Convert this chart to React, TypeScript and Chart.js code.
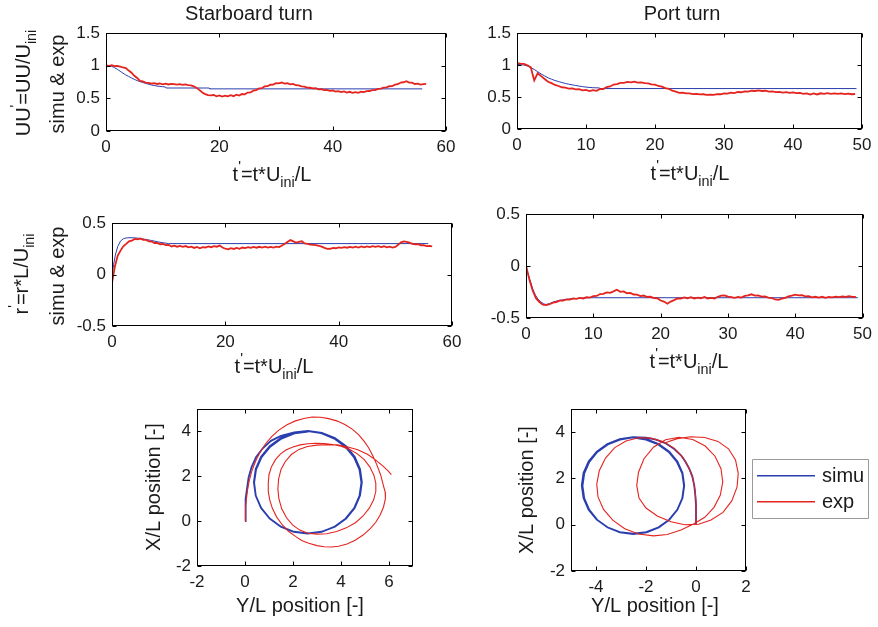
import React, { useEffect, useRef } from "react";
import { Chart, registerables } from "chart.js";

Chart.register(...registerables);

const FONT = "'Liberation Sans', Arial, Helvetica, sans-serif";
const BLUE = "#2b3eae";
const RED = "#e5231e";
const INK = "#1a1a1a";
const TICK_SIZE = 17;
const LABEL_SIZE = 20;

// ---------- time axes ----------
const T_STAR = [
  0, 0.5, 1, 1.5, 2, 2.5, 3, 3.5, 4, 4.5,
  5, 5.5, 6, 6.5, 7, 7.5, 8, 8.5, 9, 9.5,
  10, 10.5, 11, 11.5, 12, 12.5, 13, 13.5, 14, 14.5,
  15, 15.5, 16, 16.5, 17, 17.5, 18, 18.5, 19, 19.5,
  20, 20.5, 21, 21.5, 22, 22.5, 23, 23.5, 24, 24.5,
  25, 25.5, 26, 26.5, 27, 27.5, 28, 28.5, 29, 29.5,
  30, 30.5, 31, 31.5, 32, 32.5, 33, 33.5, 34, 34.5,
  35, 35.5, 36, 36.5, 37, 37.5, 38, 38.5, 39, 39.5,
  40, 40.5, 41, 41.5, 42, 42.5, 43, 43.5, 44, 44.5,
  45, 45.5, 46, 46.5, 47, 47.5, 48, 48.5, 49, 49.5,
  50, 50.5, 51, 51.5, 52, 52.5, 53, 53.5, 54, 54.5,
  55, 55.5, 56, 56.5,
];
const T_PORT = [
  0, 0.5, 1, 1.5, 2, 2.5, 3, 3.5, 4, 4.5,
  5, 5.5, 6, 6.5, 7, 7.5, 8, 8.5, 9, 9.5,
  10, 10.5, 11, 11.5, 12, 12.5, 13, 13.5, 14, 14.5,
  15, 15.5, 16, 16.5, 17, 17.5, 18, 18.5, 19, 19.5,
  20, 20.5, 21, 21.5, 22, 22.5, 23, 23.5, 24, 24.5,
  25, 25.5, 26, 26.5, 27, 27.5, 28, 28.5, 29, 29.5,
  30, 30.5, 31, 31.5, 32, 32.5, 33, 33.5, 34, 34.5,
  35, 35.5, 36, 36.5, 37, 37.5, 38, 38.5, 39, 39.5,
  40, 40.5, 41, 41.5, 42, 42.5, 43, 43.5, 44, 44.5,
  45, 45.5, 46, 46.5, 47, 47.5, 48, 48.5, 49,
];

// ---------- starboard U' ----------
const STAR_U_SIMU_T = [0, 1, 1.5, 2, 2.5, 3, 3.5, 4, 4.5, 5, 5.5, 6, 6.5, 7, 7.5, 8, 8.5, 9, 10, 10.5, 10.6, 18.2, 18.3, 55.8];
const STAR_U_SIMU = [1.0, 0.99, 0.97, 0.945, 0.915, 0.885, 0.858, 0.835, 0.812, 0.79, 0.772, 0.756, 0.742, 0.728, 0.716, 0.705, 0.696, 0.688, 0.678, 0.674, 0.658, 0.658, 0.645, 0.645];
const STAR_U_EXP = [
  1.005, 0.995, 1.008, 0.992, 0.998, 0.985, 0.972, 0.962, 0.925, 0.892,
  0.845, 0.812, 0.768, 0.76, 0.742, 0.738, 0.724, 0.731, 0.72, 0.727,
  0.715, 0.724, 0.712, 0.721, 0.716, 0.709, 0.718, 0.706, 0.713, 0.702,
  0.698, 0.684, 0.66, 0.625, 0.59, 0.565, 0.55, 0.544, 0.551, 0.532,
  0.545, 0.528, 0.541, 0.53, 0.548, 0.533, 0.556, 0.542, 0.566, 0.561,
  0.588, 0.59, 0.617, 0.624, 0.652, 0.655, 0.682, 0.686, 0.708, 0.71,
  0.732, 0.728, 0.742, 0.725, 0.731, 0.714, 0.72, 0.701, 0.697, 0.682,
  0.678, 0.665, 0.662, 0.652, 0.654, 0.638, 0.64, 0.626, 0.629, 0.615,
  0.62, 0.604, 0.611, 0.595, 0.606, 0.588, 0.6, 0.584, 0.596, 0.585,
  0.601, 0.596, 0.611, 0.612, 0.626, 0.627, 0.645, 0.648, 0.664, 0.668,
  0.685, 0.686, 0.71, 0.716, 0.742, 0.746, 0.762, 0.741, 0.74, 0.72,
  0.725, 0.71, 0.716, 0.722,
];

// ---------- port U' ----------
const PORT_U_SIMU_T = [0, 1, 1.5, 2, 2.5, 3, 3.5, 4, 4.5, 5, 5.5, 6, 6.5, 7, 7.5, 8, 8.5, 9, 9.5, 10, 11, 11.9, 12, 49.2];
const PORT_U_SIMU = [1.01, 1.0, 0.985, 0.96, 0.93, 0.895, 0.86, 0.83, 0.8, 0.778, 0.758, 0.742, 0.727, 0.712, 0.7, 0.69, 0.68, 0.67, 0.662, 0.655, 0.645, 0.642, 0.632, 0.632];
const PORT_U_EXP = [
  1.03, 1.022, 1.018, 0.995, 0.962, 0.76, 0.872, 0.826, 0.782, 0.738,
  0.716, 0.688, 0.672, 0.652, 0.648, 0.632, 0.633, 0.62, 0.624, 0.605,
  0.61, 0.592, 0.608, 0.596, 0.622, 0.625, 0.655, 0.664, 0.694, 0.7,
  0.72, 0.72, 0.736, 0.729, 0.74, 0.726, 0.728, 0.716, 0.712, 0.697,
  0.692, 0.672, 0.662, 0.64, 0.628, 0.598, 0.584, 0.566, 0.568, 0.556,
  0.558, 0.545, 0.55, 0.54, 0.543, 0.533, 0.538, 0.534, 0.546, 0.543,
  0.557, 0.553, 0.567, 0.562, 0.578, 0.574, 0.588, 0.585, 0.598, 0.594,
  0.604, 0.594, 0.598, 0.585, 0.589, 0.576, 0.581, 0.57, 0.576, 0.565,
  0.571, 0.56, 0.564, 0.549, 0.556, 0.538, 0.555, 0.54, 0.558, 0.548,
  0.56, 0.55, 0.558, 0.548, 0.555, 0.546, 0.552, 0.543, 0.547,
];

// ---------- starboard r' ----------
const STAR_R_SIMU_T = [0, 0.3, 0.6, 1, 1.5, 2, 2.5, 3, 4, 5, 6, 7, 8, 9, 10, 55.8];
const STAR_R_SIMU = [0.0, 0.1, 0.19, 0.27, 0.325, 0.347, 0.355, 0.357, 0.356, 0.35, 0.34, 0.33, 0.318, 0.308, 0.3, 0.3];
const STAR_R_EXP = [
  -0.08, 0.075, 0.182, 0.232, 0.274, 0.297, 0.322, 0.328, 0.345, 0.342,
  0.349, 0.336, 0.336, 0.321, 0.32, 0.306, 0.307, 0.294, 0.296, 0.285,
  0.288, 0.272, 0.28, 0.27, 0.278, 0.268, 0.276, 0.264, 0.27, 0.258,
  0.267, 0.255, 0.266, 0.262, 0.272, 0.265, 0.276, 0.27, 0.281, 0.262,
  0.25, 0.244, 0.256, 0.248, 0.258, 0.25, 0.262, 0.256, 0.266, 0.258,
  0.268, 0.26, 0.269, 0.262, 0.27, 0.261, 0.268, 0.262, 0.27, 0.266,
  0.282, 0.298, 0.318, 0.334, 0.322, 0.31, 0.316, 0.322, 0.302, 0.297,
  0.29, 0.288, 0.286, 0.279, 0.27, 0.258, 0.248, 0.25, 0.258, 0.255,
  0.264, 0.258, 0.266, 0.26, 0.268, 0.261, 0.27, 0.262, 0.272, 0.264,
  0.273, 0.266, 0.275, 0.268, 0.276, 0.266, 0.274, 0.263, 0.27, 0.262,
  0.268, 0.288, 0.312, 0.322, 0.316, 0.31, 0.298, 0.292, 0.294, 0.284,
  0.286, 0.276, 0.278, 0.274,
];

// ---------- port r' ----------
const PORT_R_SIMU_T = [0, 0.3, 0.7, 1, 1.4, 1.8, 2.2, 2.6, 2.9, 3.5, 4.1, 5, 6.1, 7, 8, 9.6, 49.3];
const PORT_R_SIMU = [0, -0.08, -0.155, -0.22, -0.28, -0.32, -0.345, -0.362, -0.37, -0.362, -0.345, -0.33, -0.32, -0.315, -0.31, -0.305, -0.305];
const PORT_R_EXP = [
  0.005, -0.13, -0.238, -0.312, -0.348, -0.372, -0.376, -0.368, -0.352, -0.347,
  -0.333, -0.332, -0.322, -0.324, -0.312, -0.316, -0.306, -0.312, -0.3, -0.304,
  -0.29, -0.288, -0.27, -0.268, -0.254, -0.258, -0.244, -0.228, -0.248, -0.244,
  -0.262, -0.258, -0.274, -0.276, -0.29, -0.284, -0.298, -0.296, -0.308, -0.31,
  -0.332, -0.342, -0.362, -0.342, -0.328, -0.312, -0.314, -0.302, -0.31, -0.3,
  -0.312, -0.304, -0.31, -0.298, -0.312, -0.306, -0.312, -0.296, -0.284, -0.282,
  -0.294, -0.3, -0.306, -0.298, -0.304, -0.288, -0.282, -0.272, -0.284, -0.282,
  -0.294, -0.292, -0.304, -0.308, -0.322, -0.326, -0.314, -0.306, -0.292, -0.284,
  -0.276, -0.282, -0.28, -0.292, -0.29, -0.302, -0.296, -0.304, -0.296, -0.306,
  -0.298, -0.302, -0.294, -0.3, -0.292, -0.298, -0.29, -0.296, -0.298,
];

// ---------- trajectories [Y/L, X/L] ----------
const STAR_PATH_SIMU: [number, number][] = [
  [0, 0], [0.01, 0.5], [0.04, 1.0], [0.09, 1.5], [0.15, 1.95], [0.27, 2.4], [0.46, 2.85], [0.74, 3.25], [1.08, 3.58], [1.5, 3.8], [2.05, 3.96], [2.62, 4.02],
  [3.2, 3.94], [3.745, 3.704], [4.211, 3.342], [4.569, 2.87], [4.793, 2.32], [4.87, 1.73], [4.793, 1.14], [4.569, 0.59], [4.211, 0.118], [3.745, -0.244], [3.203, -0.472], [2.62, -0.55],
  [2.037, -0.472], [1.495, -0.244], [1.029, 0.118], [0.671, 0.59], [0.447, 1.14], [0.37, 1.73], [0.447, 2.32], [0.671, 2.87], [1.029, 3.342], [1.495, 3.704], [2.037, 3.932], [2.62, 4.01],
  [3.18, 3.92], [3.72, 3.68], [4.18, 3.32], [4.54, 2.85], [4.77, 2.3], [4.85, 1.72], [4.77, 1.13], [4.55, 0.58], [4.19, 0.11], [3.73, -0.25], [3.19, -0.48], [2.61, -0.56],
  [2.03, -0.48], [1.49, -0.25], [1.03, 0.11], [0.67, 0.58], [0.45, 1.13], [0.38, 1.72], [0.46, 2.3], [0.69, 2.85], [1.05, 3.32], [1.52, 3.68], [2.06, 3.91], [2.63, 3.99],
];
const STAR_PATH_EXP: [number, number][] = [
  [0, 0], [0.02, 0.35], [0.03, 0.65], [0.06, 1.0], [0.1, 1.35], [0.17, 1.77], [0.28, 2.22], [0.44, 2.67], [0.63, 3.08], [0.86, 3.45], [1.12, 3.78], [1.41, 4.06],
  [1.75, 4.3], [2.1, 4.47], [2.45, 4.58], [2.8, 4.64], [3.15, 4.63], [3.49, 4.57], [3.85, 4.46], [4.18, 4.3], [4.48, 4.09], [4.73, 3.86], [4.96, 3.57], [5.15, 3.27],
  [5.33, 2.9], [5.49, 2.52], [5.65, 2.07], [5.76, 1.62], [5.84, 1.3], [5.85, 1.0], [5.77, 0.62], [5.63, 0.27], [5.45, -0.05], [5.22, -0.33], [4.92, -0.62], [4.59, -0.85],
  [4.25, -1.02], [3.9, -1.12], [3.6, -1.15], [3.3, -1.14], [3.0, -1.09], [2.66, -0.99], [2.36, -0.86], [2.1, -0.68], [1.8, -0.44], [1.55, -0.16], [1.32, 0.18], [1.14, 0.57],
  [1.03, 0.95], [0.97, 1.32], [0.97, 1.7], [1.0, 2.07], [1.1, 2.42], [1.27, 2.74], [1.48, 3.0], [1.72, 3.18], [2.0, 3.31], [2.3, 3.4], [2.62, 3.45], [2.95, 3.47],
  [3.3, 3.46], [3.65, 3.42], [4.0, 3.34], [4.35, 3.2], [4.68, 3.0], [4.97, 2.74], [5.2, 2.42], [5.37, 2.05], [5.45, 1.7], [5.45, 1.32], [5.36, 0.95], [5.18, 0.58],
  [4.92, 0.23], [4.6, -0.07], [4.22, -0.3], [3.82, -0.46], [3.4, -0.56], [3.0, -0.58], [2.62, -0.54], [2.28, -0.4], [1.98, -0.17], [1.73, 0.15], [1.53, 0.55], [1.41, 1.0],
  [1.37, 1.45], [1.4, 1.88], [1.5, 2.3], [1.68, 2.66], [1.93, 2.97], [2.25, 3.2], [2.6, 3.33], [3.0, 3.39], [3.45, 3.41], [3.85, 3.4], [4.25, 3.32], [4.7, 3.18],
  [5.1, 2.98], [5.45, 2.72], [5.75, 2.45], [5.95, 2.25], [6.1, 2.07],
];
const PORT_PATH_SIMU: [number, number][] = [
  [0, 0], [0.0, 0.4], [0.0, 0.83], [-0.03, 1.3], [-0.07, 1.7], [-0.15, 2.1], [-0.27, 2.42], [-0.42, 2.72], [-0.6, 3.0], [-0.88, 3.28], [-1.2, 3.51], [-1.6, 3.68], [-2.0, 3.76], [-2.52, 3.78],
  [-3.051, 3.699], [-3.545, 3.491], [-3.969, 3.161], [-4.295, 2.73], [-4.5, 2.23], [-4.57, 1.69], [-4.5, 1.15], [-4.295, 0.65], [-3.969, 0.219], [-3.545, -0.111], [-3.051, -0.319], [-2.52, -0.39],
  [-1.989, -0.319], [-1.495, -0.111], [-1.071, 0.219], [-0.745, 0.65], [-0.54, 1.15], [-0.47, 1.69], [-0.54, 2.23], [-0.745, 2.73], [-1.071, 3.161], [-1.495, 3.491], [-1.989, 3.699], [-2.52, 3.77],
  [-3.04, 3.68], [-3.53, 3.47], [-3.95, 3.14], [-4.27, 2.71], [-4.47, 2.22], [-4.54, 1.68], [-4.47, 1.14], [-4.27, 0.64], [-3.95, 0.21], [-3.53, -0.12], [-3.04, -0.33], [-2.51, -0.4],
  [-1.98, -0.33], [-1.49, -0.12], [-1.07, 0.21], [-0.75, 0.64], [-0.55, 1.14], [-0.48, 1.68], [-0.55, 2.22], [-0.76, 2.71], [-1.09, 3.14], [-1.51, 3.47], [-2.0, 3.68], [-2.5, 3.76],
];
const PORT_PATH_EXP: [number, number][] = [
  [0, 0], [0.0, 0.5], [0.0, 1.0], [-0.04, 1.5], [-0.13, 2.0], [-0.28, 2.45], [-0.52, 2.9], [-0.87, 3.3], [-1.3, 3.58], [-1.8, 3.74], [-2.3, 3.76], [-2.8, 3.62],
  [-3.25, 3.33], [-3.62, 2.88], [-3.87, 2.33], [-3.97, 1.75], [-3.92, 1.2], [-3.7, 0.66], [-3.33, 0.2], [-2.85, -0.17], [-2.3, -0.4], [-1.7, -0.48], [-1.15, -0.42], [-0.6, -0.23],
  [-0.1, 0.03], [0.35, 0.32], [0.72, 0.75], [0.97, 1.27], [1.07, 1.85], [1.0, 2.42], [0.76, 2.96], [0.37, 3.4], [-0.13, 3.68], [-0.68, 3.78], [-1.22, 3.67], [-1.7, 3.35],
  [-2.08, 2.85], [-2.3, 2.27], [-2.37, 1.7], [-2.28, 1.15], [-2.0, 0.72], [-1.55, 0.38], [-1.0, 0.13], [-0.45, 0.0], [0.1, 0.02], [0.6, 0.2], [1.08, 0.53], [1.43, 1.03],
  [1.64, 1.62], [1.69, 2.22], [1.58, 2.8], [1.3, 3.28], [0.88, 3.6], [0.35, 3.77], [-0.2, 3.8], [-0.75, 3.72], [-1.2, 3.55],
];

// ---------- ticks ----------
const TICKS_T_STAR = [0, 20, 40, 60];
const TICKS_T_PORT = [0, 10, 20, 30, 40, 50];
const TICKS_U = [0, 0.5, 1, 1.5];
const TICKS_R = [-0.5, 0, 0.5];
const TICKS_STAR_Y = [-2, 0, 2, 4, 6];
const TICKS_PORT_Y = [-4, -2, 0, 2];
const TICKS_XPOS = [-2, 0, 2, 4];

const SERIES_NAMES = ["simu", "exp"];

// ---------- text helpers ----------
type Part = { t: string; s?: "sub" | "sup" };
type Label = { parts: Part[]; x: number; y: number; size: number; rot?: boolean };

const T_LABEL: Part[] = [{ t: "t" }, { t: "'", s: "sup" }, { t: "=t*U" }, { t: "ini", s: "sub" }, { t: "/L" }];
const U_LABEL: Part[] = [{ t: "UU" }, { t: "'", s: "sup" }, { t: "=UU/U" }, { t: "ini", s: "sub" }];
const R_LABEL: Part[] = [{ t: "r" }, { t: "'", s: "sup" }, { t: "=r*L/U" }, { t: "ini", s: "sub" }];
const SIMU_EXP: Part[] = [{ t: "simu & exp" }];
const YPOS: Part[] = [{ t: "Y/L position [-]" }];
const XPOS: Part[] = [{ t: "X/L position [-]" }];

function drawRich(ctx: CanvasRenderingContext2D, parts: Part[], cx: number, cy: number, size: number, rot: boolean) {
  ctx.save();
  ctx.translate(cx, cy);
  if (rot) ctx.rotate(-Math.PI / 2);
  const small = size * 0.72;
  let w = 0;
  for (const p of parts) {
    ctx.font = `${p.s ? small : size}px ${FONT}`;
    w += ctx.measureText(p.t).width;
  }
  let x = -w / 2;
  ctx.textBaseline = "middle";
  ctx.textAlign = "left";
  ctx.fillStyle = INK;
  for (const p of parts) {
    ctx.font = `${p.s ? small : size}px ${FONT}`;
    const dy = p.s === "sub" ? size * 0.38 : p.s === "sup" ? -size * 0.42 : 0;
    ctx.fillText(p.t, x, dy);
    x += ctx.measureText(p.t).width;
  }
  ctx.restore();
}

type Series = { x: number[]; y: number[]; color: string; width: number; order: number };
type PanelSpec = {
  left: number; top: number; w: number; h: number;
  pad: { left: number; top: number; right: number; bottom: number };
  xMin: number; xMax: number; xTicks: number[];
  yMin: number; yMax: number; yTicks: number[];
  series: Series[];
  labels: Label[];
  legend?: boolean;
};

const xs = (p: [number, number][]) => p.map((v) => v[0]);
const ys = (p: [number, number][]) => p.map((v) => v[1]);

const RED_W = 1.8;

const PANELS: PanelSpec[] = [
  {
    left: 0, top: 0, w: 470, h: 195,
    pad: { left: 66, top: 33, right: 24, bottom: 34 },
    xMin: 0, xMax: 60, xTicks: TICKS_T_STAR, yMin: 0, yMax: 1.5, yTicks: TICKS_U,
    series: [
      { x: STAR_U_SIMU_T, y: STAR_U_SIMU, color: BLUE, width: 1, order: 1 },
      { x: T_STAR, y: STAR_U_EXP, color: RED, width: RED_W, order: 0 },
    ],
    labels: [
      { parts: [{ t: "Starboard turn" }], x: 249, y: 14, size: LABEL_SIZE },
      { parts: T_LABEL, x: 272, y: 175, size: LABEL_SIZE },
      { parts: U_LABEL, x: 24, y: 83, size: LABEL_SIZE, rot: true },
      { parts: SIMU_EXP, x: 58, y: 84, size: LABEL_SIZE, rot: true },
    ],
  },
  {
    left: 470, top: 0, w: 408, h: 195,
    pad: { left: 7, top: 33, right: 16, bottom: 36 },
    xMin: 0, xMax: 50, xTicks: TICKS_T_PORT, yMin: 0, yMax: 1.5, yTicks: TICKS_U,
    series: [
      { x: PORT_U_SIMU_T, y: PORT_U_SIMU, color: BLUE, width: 1, order: 1 },
      { x: T_PORT, y: PORT_U_EXP, color: RED, width: RED_W, order: 0 },
    ],
    labels: [
      { parts: [{ t: "Port turn" }], x: 682, y: 14, size: LABEL_SIZE },
      { parts: T_LABEL, x: 690, y: 174, size: LABEL_SIZE },
    ],
  },
  {
    left: 0, top: 195, w: 470, h: 195,
    pad: { left: 72, top: 28, right: 18, bottom: 34 },
    xMin: 0, xMax: 60, xTicks: TICKS_T_STAR, yMin: -0.5, yMax: 0.5, yTicks: TICKS_R,
    series: [
      { x: STAR_R_SIMU_T, y: STAR_R_SIMU, color: BLUE, width: 1, order: 1 },
      { x: T_STAR, y: STAR_R_EXP, color: RED, width: RED_W, order: 0 },
    ],
    labels: [
      { parts: T_LABEL, x: 274, y: 367, size: LABEL_SIZE },
      { parts: R_LABEL, x: 22, y: 274, size: LABEL_SIZE, rot: true },
      { parts: SIMU_EXP, x: 58, y: 276, size: LABEL_SIZE, rot: true },
    ],
  },
  {
    left: 470, top: 195, w: 408, h: 195,
    pad: { left: 16, top: 19, right: 15, bottom: 42 },
    xMin: 0, xMax: 50, xTicks: TICKS_T_PORT, yMin: -0.5, yMax: 0.5, yTicks: TICKS_R,
    series: [
      { x: PORT_R_SIMU_T, y: PORT_R_SIMU, color: BLUE, width: 1, order: 1 },
      { x: T_PORT, y: PORT_R_EXP, color: RED, width: RED_W, order: 0 },
    ],
    labels: [{ parts: T_LABEL, x: 689, y: 362, size: LABEL_SIZE }],
  },
  {
    left: 0, top: 390, w: 470, h: 237,
    pad: { left: 157, top: 19, right: 57, bottom: 31 },
    xMin: -2, xMax: 7, xTicks: TICKS_STAR_Y, yMin: -2, yMax: 5, yTicks: TICKS_XPOS,
    series: [
      { x: xs(STAR_PATH_SIMU), y: ys(STAR_PATH_SIMU), color: BLUE, width: 1.8, order: 1 },
      { x: xs(STAR_PATH_EXP), y: ys(STAR_PATH_EXP), color: RED, width: 1.1, order: 0 },
    ],
    labels: [
      { parts: YPOS, x: 300, y: 606, size: LABEL_SIZE },
      { parts: XPOS, x: 154, y: 487, size: LABEL_SIZE, rot: true },
    ],
  },
  {
    left: 470, top: 390, w: 408, h: 237,
    pad: { left: 61, top: 19, right: 132, bottom: 26 },
    xMin: -5, xMax: 2, xTicks: TICKS_PORT_Y, yMin: -2, yMax: 5, yTicks: TICKS_XPOS,
    series: [
      { x: xs(PORT_PATH_SIMU), y: ys(PORT_PATH_SIMU), color: BLUE, width: 1.8, order: 1 },
      { x: xs(PORT_PATH_EXP), y: ys(PORT_PATH_EXP), color: RED, width: 1.1, order: 0 },
    ],
    labels: [
      { parts: YPOS, x: 655, y: 606, size: LABEL_SIZE },
      { parts: XPOS, x: 527, y: 490, size: LABEL_SIZE, rot: true },
    ],
    legend: true,
  },
];

function Panel({ p }: { p: PanelSpec }) {
  const ref = useRef<HTMLCanvasElement>(null);
  useEffect(() => {
    const canvas = ref.current;
    if (!canvas) return;
    const frame = {
      id: "frame",
      afterDraw(chart: any) {
        const { ctx, chartArea: a, scales } = chart;
        ctx.save();
        ctx.strokeStyle = "#000";
        ctx.lineWidth = 1;
        const L = Math.round(a.left) + 0.5;
        const R = Math.round(a.right) - 0.5;
        const T = Math.round(a.top) + 0.5;
        const B = Math.round(a.bottom) - 0.5;
        ctx.strokeRect(L, T, R - L, B - T);
        ctx.beginPath();
        for (const tk of scales.x.ticks) {
          const px = Math.round(scales.x.getPixelForValue(tk.value)) + 0.5;
          ctx.moveTo(px, B); ctx.lineTo(px, B - 4);
          ctx.moveTo(px, T); ctx.lineTo(px, T + 4);
        }
        for (const tk of scales.y.ticks) {
          const py = Math.round(scales.y.getPixelForValue(tk.value)) + 0.5;
          ctx.moveTo(L, py); ctx.lineTo(L + 4, py);
          ctx.moveTo(R, py); ctx.lineTo(R - 4, py);
        }
        ctx.stroke();
        ctx.closePath();
        for (const lab of p.labels) {
          drawRich(ctx, lab.parts, lab.x - p.left, lab.y - p.top, lab.size, !!lab.rot);
        }
        if (p.legend) {
          const bx = 752 - p.left, by = 459 - p.top, bw = 116, bh = 59;
          ctx.fillStyle = "#ffffff";
          ctx.fillRect(bx, by, bw, bh);
          ctx.beginPath();
          ctx.strokeStyle = "#9a9a9a";
          ctx.lineWidth = 1;
          ctx.rect(bx + 0.5, by + 0.5, bw, bh);
          ctx.stroke();
          const rows = [16, 42];
          p.series.forEach((s, i) => {
            const yy = by + rows[i];
            ctx.fillStyle = s.color;
            ctx.fillRect(bx + 5, yy, 58, 1.5);
            ctx.fillStyle = INK;
            ctx.font = `${LABEL_SIZE}px ${FONT}`;
            ctx.textBaseline = "middle";
            ctx.textAlign = "left";
            ctx.fillText(SERIES_NAMES[i], bx + 70, yy + 1);
          });
        }
        ctx.restore();
      },
    };
    const tickFont = { family: FONT, size: TICK_SIZE };
    const chart = new Chart(canvas, {
      type: "scatter",
      data: {
        datasets: p.series.map((s, i) => ({
          label: SERIES_NAMES[i],
          data: s.x.map((x, k) => ({ x, y: s.y[k] })),
          showLine: true,
          borderColor: s.color,
          backgroundColor: s.color,
          borderWidth: s.width,
          pointRadius: 0,
          pointHoverRadius: 0,
          tension: 0,
          order: s.order,
        })),
      },
      options: {
        animation: false,
        responsive: false,
        devicePixelRatio: 1,
        events: [],
        layout: { padding: p.pad },
        plugins: { legend: { display: false }, tooltip: { enabled: false }, title: { display: false } },
        scales: {
          x: {
            type: "linear",
            min: p.xMin,
            max: p.xMax,
            grid: { display: false, drawTicks: false },
            border: { display: false },
            ticks: { font: tickFont, color: INK, padding: 6, autoSkip: false, maxRotation: 0, callback: (v: any) => String(v) },
            afterBuildTicks: (sc: any) => { sc.ticks = p.xTicks.map((v) => ({ value: v })); },
            afterFit: (sc: any) => { sc.height = 30; },
          },
          y: {
            type: "linear",
            min: p.yMin,
            max: p.yMax,
            grid: { display: false, drawTicks: false },
            border: { display: false },
            ticks: { font: tickFont, color: INK, padding: 6, autoSkip: false, callback: (v: any) => String(v) },
            afterBuildTicks: (sc: any) => { sc.ticks = p.yTicks.map((v) => ({ value: v })); },
            afterFit: (sc: any) => { sc.width = 40; },
          },
        },
      } as any,
      plugins: [frame],
    });
    return () => chart.destroy();
  }, [p]);
  return (
    <canvas
      ref={ref}
      width={p.w}
      height={p.h}
      style={{ position: "absolute", left: p.left, top: p.top, width: p.w, height: p.h }}
    />
  );
}

export default function App() {
  return (
    <div style={{ position: "absolute", left: 0, top: 0, width: 878, height: 627, background: "#fff", overflow: "hidden" }}>
      {PANELS.map((p, i) => (
        <Panel key={i} p={p} />
      ))}
    </div>
  );
}
